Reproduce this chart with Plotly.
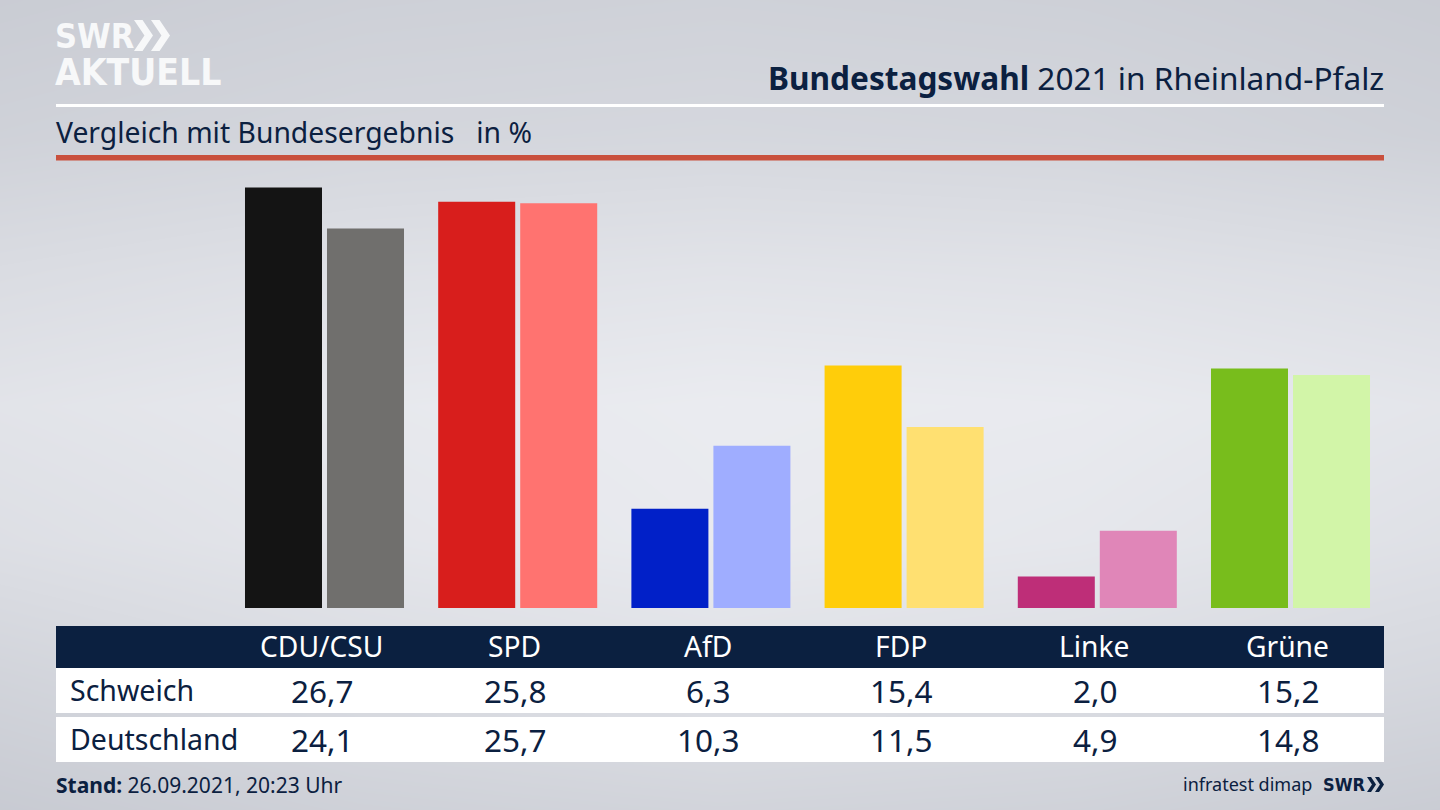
import plotly.graph_objects as go

parties = ['CDU/CSU', 'SPD', 'AfD', 'FDP', 'Linke', 'Grüne']
schweich = [26.7, 25.8, 6.3, 15.4, 2.0, 15.2]
deutschland = [24.1, 25.7, 10.3, 11.5, 4.9, 14.8]
colors_schweich = ['#141414', '#d81e1c', '#0120c8', '#ffcd0a', '#be2e78', '#78bd1c']
colors_deutschland = ['#706f6d', '#ff7370', '#9fadff', '#ffe071', '#e086b8', '#d2f5a8']

# background brightness, top to bottom / left to right
bg_z = [
    [198, 203, 205, 203, 198],
    [205, 210, 212, 210, 204],
    [218, 224, 227, 225, 220],
    [228, 234, 238, 236, 230],
    [222, 230, 236, 232, 224],
    [208, 218, 224, 220, 212],
    [196, 204, 208, 205, 198],
]

W, H = 1440, 810
NAVY = '#0b2040'
FONT = 'Noto Sans'
LOGO = 'DejaVu Sans Condensed'


def fmt(v):
    return f'{v:.1f}'.replace('.', ',')


def px(x):
    return x / W


def py(y):
    return 1 - y / H


def rect(x0, y0, x1, y1, color):
    return dict(type='rect', xref='paper', yref='paper', x0=px(x0), x1=px(x1),
                y0=py(y0), y1=py(y1), fillcolor=color, line_width=0, layer='above')


def chevron(x, y, w, h, color):
    # one ">" of the SWR logo
    pts = [(x, y), (x + w * 0.45, y), (x + w, y + h / 2), (x + w * 0.45, y + h),
           (x, y + h), (x + w * 0.55, y + h / 2)]
    path = 'M ' + ' L '.join(f'{px(a):.5f},{py(b):.5f}' for a, b in pts) + ' Z'
    return dict(type='path', xref='paper', yref='paper', path=path,
                fillcolor=color, line_width=0, layer='above')


def label(x, y, text, size, color=NAVY, anchor='left', font=FONT, xref='paper', xshift=0):
    return dict(x=px(x) if xref == 'paper' else x, y=py(y), xref=xref, yref='paper',
                text=text, showarrow=False, xanchor=anchor, yanchor='middle', xshift=xshift,
                font=dict(family=font, size=size, color=color), borderpad=0, borderwidth=0)


fig = go.Figure()

# gradient background on its own full page axes
fig.add_trace(go.Heatmap(z=bg_z, xaxis='x', yaxis='y', zsmooth='best', showscale=False,
                         zmin=190, zmax=245, hoverinfo='skip',
                         colorscale=[[0, '#c3c6ce'], [1, '#f0f1f5']]))

fig.add_trace(go.Bar(x=parties, y=schweich, name='Schweich', marker_color=colors_schweich,
                     marker_line_width=0, xaxis='x2', yaxis='y2'))
fig.add_trace(go.Bar(x=parties, y=deutschland, name='Deutschland', marker_color=colors_deutschland,
                     marker_line_width=0, xaxis='x2', yaxis='y2'))

shapes = [
    rect(56, 104, 1384, 107, 'white'),
    rect(56, 155, 1384, 160.5, '#c9503d'),
    rect(56, 626, 1384, 668, NAVY),
    rect(56, 668, 1384, 713, 'white'),
    rect(56, 717, 1384, 762, 'white'),
    chevron(134, 20, 19, 31, '#f7f8f9'),
    chevron(151, 20, 19, 31, '#f7f8f9'),
    chevron(1367, 777, 9, 15, NAVY),
    chevron(1375, 777, 9, 15, NAVY),
]

annotations = [
    label(55, 36, '<b>SWR</b>', 34, '#f7f8f9', font=LOGO),
    label(55, 72, '<b>AKTUELL</b>', 37, '#f7f8f9', font=LOGO),
    label(1384, 77, '<b>Bundestagswahl</b> 2021 in Rheinland-Pfalz', 31.6, anchor='right'),
    label(56, 132, 'Vergleich mit Bundesergebnis   in %', 28.3),
    label(70, 690, 'Schweich', 28.5),
    label(70, 739, 'Deutschland', 28.5),
    label(56, 785, '<b>Stand:</b> 26.09.2021, 20:23 Uhr', 21),
    label(1312, 784, 'infratest dimap', 18, anchor='right'),
    label(1323, 784, '<b>SWR</b>', 18, font=LOGO),
]
for name, a, b in zip(parties, schweich, deutschland):
    annotations.append(label(name, 646, name, 28.2, 'white', 'center', xref='x2', xshift=-3))
    annotations.append(label(name, 690, fmt(a), 31.5, NAVY, 'center', xref='x2', xshift=-2.5))
    annotations.append(label(name, 739, fmt(b), 31.5, NAVY, 'center', xref='x2', xshift=-2.5))

fig.update_layout(
    width=W, height=H,
    margin=dict(l=0, r=0, t=0, b=0, pad=0),
    paper_bgcolor='#dfe1e6', plot_bgcolor='rgba(0,0,0,0)',
    showlegend=False,
    barmode='group', bargap=0.151, bargroupgap=0.061,
    xaxis=dict(domain=[0, 1], visible=False, range=[0, 4], fixedrange=True),
    yaxis=dict(domain=[0, 1], visible=False, range=[6, 0], fixedrange=True),
    xaxis2=dict(domain=[px(227.9), px(1387.1)], anchor='y2', visible=False, type='category',
                categoryorder='array', categoryarray=parties, range=[-0.5, 5.5]),
    yaxis2=dict(domain=[py(608), py(160)], anchor='x2', visible=False, range=[0, 448 / 15.75]),
    shapes=shapes,
    annotations=annotations,
)

fig.write_html('out.html', config={'displayModeBar': False},
               post_script="document.body.style.margin='0';document.body.style.overflow='hidden';")
